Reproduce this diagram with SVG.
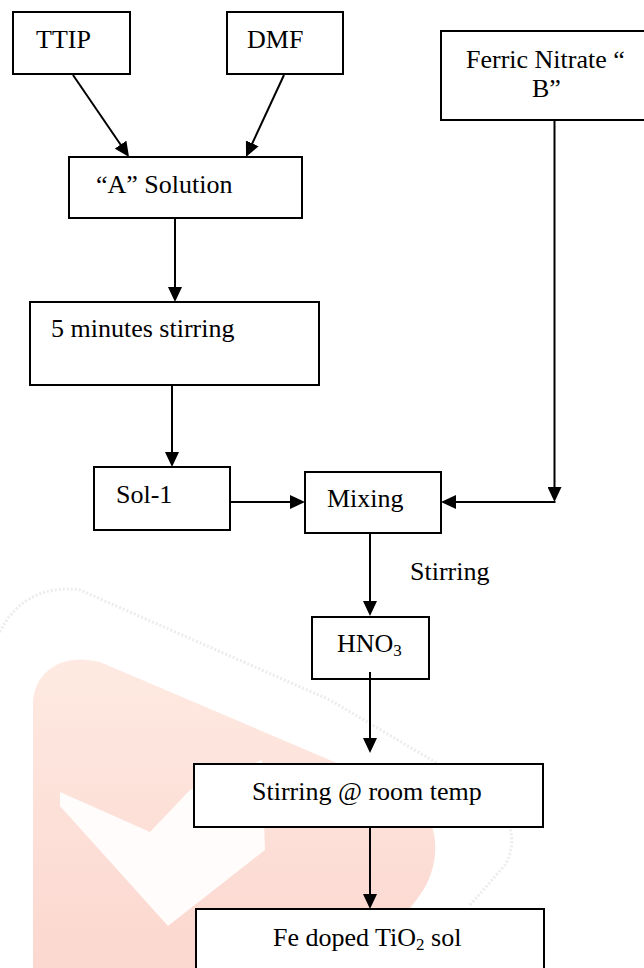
<svg xmlns="http://www.w3.org/2000/svg" width="644" height="968" viewBox="0 0 644 968">
<style>
  .box { fill: #ffffff; stroke: #000000; stroke-width: 2; }
  .lbl { font-family: "Liberation Serif", "Times New Roman", serif; font-size: 26px; fill: #000000; }
  .conn { fill: none; stroke: #000000; stroke-width: 2; }
  .arr { marker-end: url(#ah); }
</style>
<defs>
  <marker id="ah" viewBox="0 0 15 14" refX="5" refY="7" markerWidth="15" markerHeight="14" markerUnits="userSpaceOnUse" orient="auto">
    <path d="M0,0 L15,7 L0,14 Z" fill="#000000"/>
  </marker>
  <linearGradient id="wmg" x1="0" y1="0" x2="0" y2="1">
    <stop offset="0" stop-color="#feeae2"/>
    <stop offset="1" stop-color="#fbd7cf"/>
  </linearGradient>
</defs>
<rect x="0" y="0" width="644" height="968" fill="#ffffff"/>
<g id="watermark">
  <path d="M0,632 C15,600 45,585 80,590 L330,700 L440,765 C500,795 525,830 505,865 L470,905" fill="none" stroke="#e4e4e4" stroke-width="3" stroke-dasharray="2 2" opacity="0.7"/>
  <path d="M33,968 L33,705 C33,672 62,652 100,662 L400,790 C440,808 445,860 420,895 L405,915 L405,968 Z" fill="url(#wmg)"/>
  <polygon points="60,792 150,832 190,790 262,760 265,850 168,926 60,806" fill="#ffffff" opacity="0.9"/>
</g>
<g id="node-ttip">
  <rect class="box" x="13" y="12" width="117" height="62"/>
  <text class="lbl" x="36" y="48">TTIP</text>
</g>
<g id="node-dmf">
  <rect class="box" x="227" y="12" width="116" height="62"/>
  <text class="lbl" x="247" y="48">DMF</text>
</g>
<g id="node-ferric">
  <rect class="box" x="441" y="31" width="214" height="89"/>
  <text class="lbl" x="466" y="68">Ferric Nitrate “</text>
  <text class="lbl" x="532" y="97">B”</text>
</g>
<g id="node-a-solution">
  <rect class="box" x="69" y="157" width="233" height="61"/>
  <text class="lbl" x="96" y="193">“A” Solution</text>
</g>
<g id="node-stirring5">
  <rect class="box" x="30" y="302" width="289" height="83"/>
  <text class="lbl" x="51" y="337">5 minutes stirring</text>
</g>
<g id="node-sol1">
  <rect class="box" x="94" y="467" width="136" height="63"/>
  <text class="lbl" x="116" y="503">Sol-1</text>
</g>
<g id="node-mixing">
  <rect class="box" x="305" y="472" width="136" height="61"/>
  <text class="lbl" x="327" y="507">Mixing</text>
</g>
<g id="node-hno3">
  <rect class="box" x="312" y="617" width="117" height="62"/>
  <text class="lbl" x="337" y="652">HNO<tspan font-size="17" dy="4">3</tspan></text>
</g>
<g id="node-stirring-room">
  <rect class="box" x="194" y="764" width="349" height="63"/>
  <text class="lbl" x="252" y="800">Stirring @ room temp</text>
</g>
<g id="node-fe-sol">
  <rect class="box" x="196" y="909" width="348" height="80"/>
  <text class="lbl" x="273" y="946">Fe doped TiO<tspan font-size="17" dy="4">2</tspan><tspan dy="-4"> sol</tspan></text>
</g>
<g id="connectors">
  <line class="conn arr" x1="73" y1="75" x2="123.4" y2="148.7"/>
  <line class="conn arr" x1="284" y1="75" x2="250.2" y2="147.9"/>
  <line class="conn arr" x1="175" y1="219" x2="175" y2="292"/>
  <line class="conn arr" x1="172" y1="385" x2="172" y2="457"/>
  <line class="conn arr" x1="230" y1="502" x2="295" y2="502"/>
  <line class="conn arr" x1="554.5" y1="120" x2="554.5" y2="492"/>
  <line class="conn arr" x1="555.5" y1="502" x2="451" y2="502"/>
  <line class="conn arr" x1="370" y1="533" x2="370" y2="606"/>
  <line class="conn arr" x1="370" y1="672" x2="370" y2="743"/>
  <line class="conn arr" x1="370" y1="827" x2="370" y2="899"/>
  <text class="lbl" x="410" y="580">Stirring</text>
</g>
</svg>
